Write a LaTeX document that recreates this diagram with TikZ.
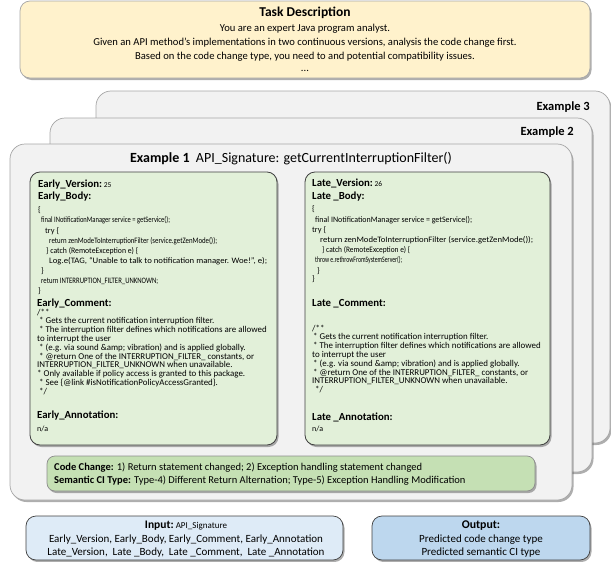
\documentclass[tikz,border=0pt]{standalone}
\usepackage{fontspec}
\setmainfont{Carlito}
\usepackage{graphicx}
\usetikzlibrary{shadows}
\definecolor{taskfill}{HTML}{FFF2CC}
\definecolor{taskdraw}{HTML}{A6A6A6}
\definecolor{exfill}{HTML}{F2F2F2}
\definecolor{exdraw}{HTML}{A6A6A6}
\definecolor{greenfill}{HTML}{E2F0D9}
\definecolor{darkdraw}{HTML}{404040}
\definecolor{ccfill}{HTML}{C5E0B4}
\definecolor{ccdraw}{HTML}{8C8C8C}
\definecolor{infill}{HTML}{DEEBF7}
\definecolor{outfill}{HTML}{BDD7EE}
\newcommand{\sq}[2]{\resizebox{#1pt}{\height}{#2}}
\newcommand{\tline}[5]{\node[#2] (#1) at (#3,#4) {#5};}
\begin{document}
\begin{tikzpicture}[x=1pt,y=-1pt,
  shadowed/.style={drop shadow={shadow xshift=1.5pt,shadow yshift=-2pt,opacity=0.45,fill=black!70}},
  taskbox/.style={draw=taskdraw,fill=taskfill,rounded corners=10pt,line width=0.7pt,shadowed},
  panel/.style={draw=exdraw,fill=exfill,rounded corners=15pt,line width=0.7pt,shadowed},
  greenbox/.style={draw=darkdraw,fill=greenfill,rounded corners=10pt,line width=0.8pt,shadowed},
  ccbox/.style={draw=ccdraw,fill=ccfill,rounded corners=8pt,line width=0.7pt,shadowed},
  inbox/.style={draw=darkdraw,fill=infill,rounded corners=10pt,line width=0.7pt,shadowed},
  outbox/.style={draw=darkdraw,fill=outfill,rounded corners=10pt,line width=0.7pt,shadowed},
  t/.style={inner sep=0pt,anchor=base west},
  tc/.style={inner sep=0pt,anchor=base},
  te/.style={inner sep=0pt,anchor=base east},
  head/.style={t,font=\fontsize{10.8}{12}\selectfont\bfseries},
  code/.style={t,font=\fontsize{8.3}{9}\selectfont},
  cmt/.style={t,font=\fontsize{8.9}{9}\selectfont},
  small/.style={t,font=\fontsize{8}{9}\selectfont},
  tasktxt/.style={tc,font=\fontsize{10.6}{13}\selectfont},
  bot/.style={tc,font=\fontsize{11}{13}\selectfont}
]
\useasboundingbox (0,0) rectangle (611,562);

% task description
\path[taskbox] (20,1) rectangle (590,78);
\node[tc,font=\fontsize{13.5}{15}\selectfont\bfseries] (taskh) at (305,16.5) {Task Description};
\node[tasktxt] (task1) at (305,31) {You are an expert Java program analyst.};
\node[tasktxt] (task2) at (305,45.5) {Given an API method’s implementations in two continuous versions, analysis the code change first.};
\node[tasktxt] (task3) at (305,59) {Based on the code change type, you need to and potential compatibility issues.};
\node[tasktxt] (task4) at (305,71) {...};

% example panels
\path[panel] (96,91) rectangle (610,443);
\node[te,font=\fontsize{12.5}{14}\selectfont\bfseries] (ex3) at (590,110) {Example 3};
\path[panel] (50,118) rectangle (592,472);
\node[te,font=\fontsize{12.5}{14}\selectfont\bfseries] (ex2) at (574,135) {Example 2};
\path[panel] (10,144) rectangle (572,500);
\node[tc,font=\fontsize{14}{16}\selectfont] (ex1) at (291,162.5) {\textbf{Example 1}\ \ API\_Signature: getCurrentInterruptionFilter()};

% early box
\path[greenbox] (30,172) rectangle (277,445);
\tline{ev}{head}{38}{187}{Early\_Version:{\fontsize{7.5}{9}\selectfont\mdseries\ 25}}
\tline{eb}{head}{38}{199.5}{Early\_Body:}
\tline{ec1}{code}{38}{212}{\{}
\tline{ec2}{code}{41}{222.5}{\sq{129}{final INotificationManager service = getService();}}
\tline{ec3}{code}{45}{233}{try \{}
\tline{ec4}{code}{49}{243}{\sq{168}{return zenModeToInterruptionFilter (service.getZenMode());}}
\tline{ec5}{code}{46}{253}{\sq{92}{\} catch (RemoteException e) \{}}
\tline{ec6}{code}{49}{263}{\sq{218}{Log.e(TAG, “Unable to talk to notification manager. Woe!”, e);}}
\tline{ec7}{code}{41}{273.5}{\}}
\tline{ec8}{code}{41}{283.5}{\sq{117}{return INTERRUPTION\_FILTER\_UNKNOWN;}}
\tline{ec9}{code}{38}{293.5}{\}}
\tline{ecm}{head}{37}{306.5}{Early\_Comment:}
\tline{em1}{cmt}{37}{315}{/**}
\tline{em2}{cmt}{39}{323.8}{* Gets the current notification interruption filter.}
\tline{em3}{cmt}{39}{332.6}{* The interruption filter defines which notifications are allowed}
\tline{em4}{cmt}{37}{341.4}{to interrupt the user}
\tline{em5}{cmt}{39}{350.2}{* (e.g. via sound \&amp; vibration) and is applied globally.}
\tline{em6}{cmt}{39}{359}{* @return One of the INTERRUPTION\_FILTER\_ constants, or}
\tline{em7}{cmt}{37}{367.8}{INTERRUPTION\_FILTER\_UNKNOWN when unavailable.}
\tline{em8}{cmt}{37}{376.6}{* Only available if policy access is granted to this package.}
\tline{em9}{cmt}{39}{385.4}{* See \{@link \#isNotificationPolicyAccessGranted\}.}
\tline{em10}{cmt}{39}{394.2}{*/}
\tline{ea}{head}{37}{418}{Early\_Annotation:}
\tline{ean}{small}{37}{431.5}{n/a}

% late box
\path[greenbox] (305,172) rectangle (550,445);
\tline{lv}{head}{312}{186.5}{Late\_Version:{\fontsize{7.5}{9}\selectfont\mdseries\ 26}}
\tline{lb}{head}{312}{199.5}{Late \_Body:}
\tline{lc1}{code}{312}{211.5}{\{}
\tline{lc2}{code}{315}{222.5}{\sq{157}{final INotificationManager service = getService();}}
\tline{lc3}{code}{312}{232.5}{try \{}
\tline{lc4}{code}{320}{242.5}{\sq{213}{return zenModeToInterruptionFilter (service.getZenMode());}}
\tline{lc5}{code}{322}{252.5}{\sq{88}{\} catch (RemoteException e) \{}}
\tline{lc6}{code}{315}{262.5}{\sq{87}{throw e.rethrowFromSystemServer();}}
\tline{lc7}{code}{317}{273}{\}}
\tline{lc8}{code}{312}{281.5}{\}}
\tline{lcm}{head}{312}{306.5}{Late \_Comment:}
\tline{lm1}{cmt}{312}{331}{/**}
\tline{lm2}{cmt}{313}{339.8}{* Gets the current notification interruption filter.}
\tline{lm3}{cmt}{313}{348.6}{* The interruption filter defines which notifications are allowed}
\tline{lm4}{cmt}{312}{357.4}{to interrupt the user}
\tline{lm5}{cmt}{313}{366.2}{* (e.g. via sound \&amp; vibration) and is applied globally.}
\tline{lm6}{cmt}{313}{375}{* @return One of the INTERRUPTION\_FILTER\_ constants, or}
\tline{lm7}{cmt}{312}{383.8}{INTERRUPTION\_FILTER\_UNKNOWN when unavailable.}
\tline{lm8}{cmt}{315}{392.6}{*/}
\tline{la}{head}{312}{420}{Late \_Annotation:}
\tline{lan}{small}{312}{431.5}{n/a}

% code change box
\path[ccbox] (47,456) rectangle (535,491);
\node[t,font=\fontsize{10.5}{12}\selectfont] (cc1) at (54,470) {\textbf{Code Change:} 1) Return statement changed; 2) Exception handling statement changed};
\node[t,font=\fontsize{10.5}{12}\selectfont] (cc2) at (54,483) {\textbf{Semantic CI Type:} Type-4) Different Return Alternation; Type-5) Exception Handling Modification};

% input / output
\path[inbox] (26,516) rectangle (343,560);
\node[tc,font=\fontsize{11.5}{13}\selectfont] (inh) at (186,528) {\textbf{Input:}{\fontsize{9}{11}\selectfont\ API\_Signature}};
\node[bot] (in1) at (186,542) {Early\_Version, Early\_Body, Early\_Comment, Early\_Annotation};
\node[bot] (in2) at (186,555) {Late\_Version,\ \ Late \_Body,\ \ Late \_Comment,\ \ Late \_Annotation};
\path[outbox] (372,516) rectangle (590,560);
\node[tc,font=\fontsize{11.8}{13}\selectfont\bfseries] (outh) at (481,528) {Output:};
\node[bot] (out1) at (481,542) {Predicted code change type};
\node[bot] (out2) at (481,555) {Predicted semantic CI type};
\end{tikzpicture}
\end{document}
